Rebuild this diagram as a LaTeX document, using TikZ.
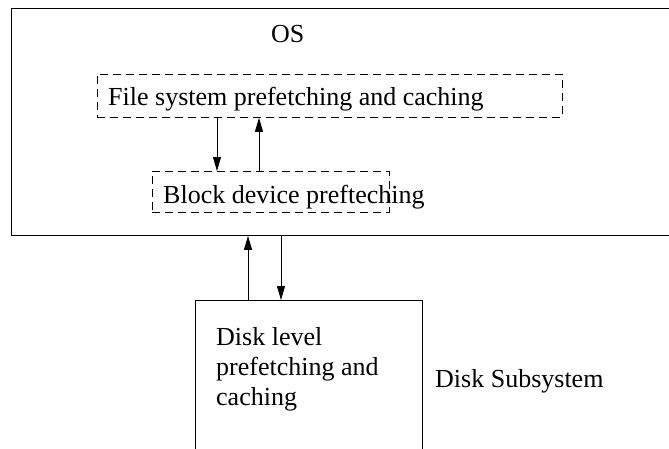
\documentclass[tikz,border=0pt]{standalone}
\usepackage{fontspec}
\setmainfont{Liberation Serif}
\usetikzlibrary{arrows.meta}
\begin{document}
\begin{tikzpicture}[x=1pt,y=-1pt,
  solidbox/.style={draw, line width=0.9pt, inner sep=0pt, anchor=north west},
  dashbox/.style={draw, line width=0.8pt, dash pattern=on 8pt off 5pt, inner sep=0pt, anchor=north west},
  label/.style={anchor=base west, inner sep=0pt, font=\fontsize{26}{30}\selectfont},
  arr/.style={line width=0.8pt, -{Triangle[length=14pt,width=8pt]}}]
\useasboundingbox (0,0) rectangle (669,448);
\clip (0,0) rectangle (669,448);

% outer OS region and the disk subsystem box (both run past the page edge)
\node[solidbox, minimum width=700pt, minimum height=227pt] (os) at (11,8) {};
\node[solidbox, minimum width=227pt, minimum height=170pt] (disk) at (195,300) {};

% dashed layer boxes inside the OS
\node[dashbox, minimum width=465pt, minimum height=43pt] (fs) at (97,74) {};
\node[dashbox, minimum width=237pt, minimum height=41pt] (bd) at (152,171) {};

% texts
\node[label] (ostxt) at (271,42) {OS};
\node[label] (fstxt) at (108,105) {File system prefetching and caching};
\node[label] (bdtxt) at (163,203) {Block device prefteching};
\node[label, align=left, anchor=north west] (disktxt) at (216,327)
  {Disk level\\prefetching and\\caching};
\node[label] (subtxt) at (435,387) {Disk Subsystem};

% requests and data between layers
\draw[arr] (fs.south -| 217,0) -- (bd.north -| 217,0);
\draw[arr] (bd.north -| 259,0) -- (fs.south -| 259,0);
\draw[arr] (disk.north -| 248,0) -- (os.south -| 248,0);
\draw[arr] (os.south -| 281,0) -- (disk.north -| 281,0);
\end{tikzpicture}
\end{document}
